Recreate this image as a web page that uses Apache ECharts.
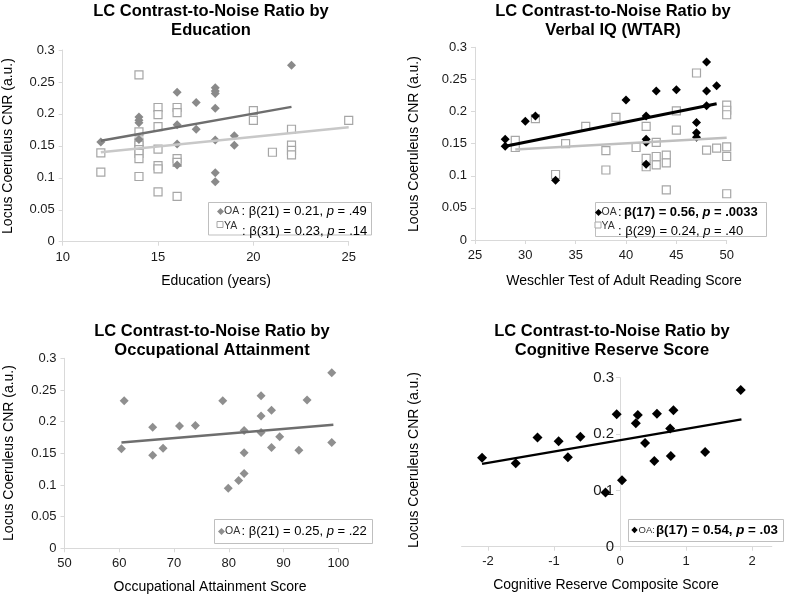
<!DOCTYPE html>
<html><head><meta charset="utf-8">
<script src="https://cdn.jsdelivr.net/npm/echarts@6/dist/echarts.min.js"></script>
<style>html,body{margin:0;padding:0;background:#fff}#c{width:787px;height:596px}</style>
</head><body><div id="c"></div>
<script>
// ---------- DATA ----------
// Panel 1: Education (years) vs LC CNR
const eduOA = [[12,0.156],[14,0.195],[14,0.19],[14,0.186],[14,0.16],[16,0.234],[16,0.183],[16,0.153],[16,0.12],[17,0.218],[17,0.176],[18,0.241],[18,0.236],[18,0.232],[18,0.209],[18,0.159],[18,0.108],[18,0.094],[19,0.166],[19,0.151],[22,0.276]];
const eduYA = [[12,0.139],[12,0.109],[14,0.261],[14,0.172],[14,0.156],[14,0.151],[14,0.144],[14,0.138],[14,0.130],[14,0.102],[15,0.210],[15,0.199],[15,0.180],[15,0.145],[15,0.119],[15,0.114],[15,0.078],[16,0.210],[16,0.202],[16,0.130],[16,0.124],[16,0.071],[20,0.205],[20,0.19],[21,0.14],[22,0.176],[22,0.151],[22,0.143],[22,0.136],[25,0.19]];
const eduOAfit = [[12,0.158],[22,0.211]];
const eduYAfit = [[12,0.140],[25,0.179]];
// Panel 2: WTAR
const wtarOA = [[28,0.157],[28,0.146],[30,0.185],[31,0.193],[33,0.093],[40,0.218],[42,0.193],[42,0.157],[42,0.152],[42,0.118],[43,0.232],[45,0.234],[47,0.183],[47,0.167],[47,0.160],[48,0.277],[48,0.232],[48,0.209],[49,0.240]];
const wtarYA = [[29,0.155],[29,0.144],[31,0.189],[33,0.102],[34,0.150],[36,0.177],[38,0.139],[38,0.109],[39,0.191],[41,0.144],[42,0.177],[42,0.127],[42,0.114],[43,0.152],[43,0.130],[43,0.117],[44,0.132],[44,0.120],[44,0.078],[45,0.201],[45,0.171],[47,0.260],[48,0.140],[49,0.143],[50,0.210],[50,0.202],[50,0.195],[50,0.145],[50,0.130],[50,0.072]];
const wtarOAfit = [[28,0.146],[49,0.212]];
const wtarYAfit = [[29,0.141],[50,0.159]];
// Panel 3: Occupational attainment
const occOA = [[60.4,0.157],[60.9,0.233],[66.1,0.191],[66.1,0.147],[68.0,0.158],[71.0,0.193],[73.9,0.194],[78.9,0.233],[79.9,0.095],[81.8,0.107],[82.8,0.186],[82.8,0.151],[82.8,0.118],[85.9,0.241],[85.9,0.209],[85.9,0.183],[87.8,0.218],[87.8,0.159],[89.3,0.176],[92.8,0.155],[94.3,0.234],[98.8,0.277],[98.8,0.167]];
const occOAfit = [[60.4,0.167],[99.1,0.195]];
// Panel 4: Cognitive reserve composite
const crsOA = [[-2.09,0.158],[-1.58,0.148],[-1.25,0.194],[-0.93,0.187],[-0.79,0.159],[-0.60,0.195],[-0.22,0.096],[-0.05,0.235],[0.03,0.118],[0.24,0.219],[0.27,0.234],[0.38,0.184],[0.52,0.152],[0.56,0.236],[0.76,0.210],[0.77,0.161],[0.81,0.242],[1.29,0.168],[1.83,0.278]];
const crsOAfit = [[-2.09,0.147],[1.84,0.226]];
const crsXTicks = [-2,-1,0,1,2];
const crsXRange = [-2.4, 2.3];

// ---------- CHART ----------
const FONT = '"Liberation Sans", Arial, sans-serif';
const AX = '#d9d9d9';
const chart = echarts.init(document.getElementById('c'), null, {renderer:'canvas'});

function xAxis(gi, min, max, interval, extra) {
  return Object.assign({
    type:'value', gridIndex:gi, min, max, interval,
    axisLine:{show:true, onZero:false, lineStyle:{color:AX, width:1}},
    axisTick:{show:true, length:4, lineStyle:{color:AX}},
    splitLine:{show:false},
    axisLabel:{color:'#1a1a1a', fontSize:13, fontFamily:FONT, margin:9}
  }, extra||{});
}
function yAxis(gi, max, interval, extra) {
  return Object.assign({
    type:'value', gridIndex:gi, min:0, max, interval,
    axisLine:{show:true, onZero:false, lineStyle:{color:AX, width:1}},
    axisTick:{show:true, length:4, lineStyle:{color:AX}},
    splitLine:{show:false},
    axisLabel:{color:'#1a1a1a', fontSize:13, fontFamily:FONT, margin:8}
  }, extra||{});
}
function diamonds(data, xi, color, size) {
  return {type:'scatter', xAxisIndex:xi, yAxisIndex:xi, data, symbol:'diamond', symbolSize:size,
    itemStyle:{color, opacity:1}, z:4, silent:true};
}
function squares(data, xi) {
  return {type:'scatter', xAxisIndex:xi, yAxisIndex:xi, data, symbol:'rect', symbolSize:8,
    itemStyle:{color:'#fff', borderColor:'#a6a6a6', borderWidth:1.2, opacity:1}, z:3, silent:true};
}
function fit(data, xi, color, width) {
  return {type:'line', xAxisIndex:xi, yAxisIndex:xi, data, symbol:'none',
    lineStyle:{color, width}, z:5, silent:true};
}

// graphic helpers
function txt(x, y, text, opts) {
  opts = opts || {};
  return {type:'text', x, y, rotation: opts.rot || 0, z:100,
    style: Object.assign({text, fill:'#000', fontFamily:FONT, fontSize:opts.size||14,
      fontWeight:opts.weight||'normal', align:opts.align||'center', verticalAlign:'middle',
      textAlign:opts.align||'center', textVerticalAlign:'middle'}, opts.extra||{})};
}
function diamondMark(cx, cy, r, color) {
  return {type:'polygon', z:101, shape:{points:[[cx,cy-r],[cx+r,cy],[cx,cy+r],[cx-r,cy]]}, style:{fill:color}};
}
function squareMark(cx, cy, s) {
  return {type:'rect', z:101, shape:{x:cx-s/2, y:cy-s/2, width:s, height:s}, style:{fill:'#fff', stroke:'#a6a6a6', lineWidth:1}};
}
function box(x, y, w, h) {
  return {type:'rect', z:99, shape:{x, y, width:w, height:h}, style:{fill:'#fff', stroke:'#bfbfbf', lineWidth:1}};
}
function statText(x, y, text, bold, size) {
  return {type:'text', x, y, z:101, style:{text, fill:'#000', fontFamily:FONT, fontSize:size||13,
    fontWeight: bold ? 'bold':'normal', align:'left', verticalAlign:'middle', textAlign:'left', textVerticalAlign:'middle',
    rich:{i:{fontStyle:'italic', fontFamily:FONT, fontSize:size||13, fontWeight: bold ? 'bold':'normal'}}}};
}
function smallLab(x, y, text, size) {
  return {type:'text', x, y, z:101, style:{text, fill:'#333', fontFamily:FONT, fontSize:size||10.5,
    align:'left', verticalAlign:'middle', textAlign:'left', textVerticalAlign:'middle'}};
}

const TITLE = {size:16.5, weight:'bold'};
const graphics = [
  // titles
  txt(211, 11, 'LC Contrast-to-Noise Ratio by', TITLE), txt(211, 30, 'Education', TITLE),
  txt(613, 11, 'LC Contrast-to-Noise Ratio by', TITLE), txt(613, 30, 'Verbal IQ (WTAR)', TITLE),
  txt(212, 331, 'LC Contrast-to-Noise Ratio by', TITLE), txt(212, 350, 'Occupational Attainment', TITLE),
  txt(612, 331, 'LC Contrast-to-Noise Ratio by', TITLE), txt(612, 350, 'Cognitive Reserve Score', TITLE),
  // y names
  txt(8, 146, 'Locus Coeruleus CNR (a.u.)', {rot:Math.PI/2}),
  txt(414, 144, 'Locus Coeruleus CNR (a.u.)', {rot:Math.PI/2}),
  txt(9, 453, 'Locus Coeruleus CNR (a.u.)', {rot:Math.PI/2}),
  txt(414, 460, 'Locus Coeruleus CNR (a.u.)', {rot:Math.PI/2}),
  // x names
  txt(216, 281, 'Education (years)'),
  txt(624, 281, 'Weschler Test of Adult Reading Score'),
  txt(210, 587, 'Occupational Attainment Score'),
  txt(606, 585, 'Cognitive Reserve Composite Score'),
  // legend panel 1
  box(208.5, 202.5, 163, 32.5),
  diamondMark(220.5, 211.5, 3.5, '#8a8a8a'), smallLab(224, 211.5, 'OA'),
  statText(241.5, 211.5, ': β(21) = 0.21, {i|p} = .49'),
  squareMark(220, 224.5, 6), smallLab(224, 226, 'YA'),
  statText(242, 231, ': β(31) = 0.23, {i|p} = .14'),
  // legend panel 2
  box(595.5, 202.5, 171, 34),
  diamondMark(598.5, 212.5, 3.5, '#000'), smallLab(601.5, 212.5, 'OA'),
  statText(618, 212.5, ':'), statText(624, 212.5, 'β(17) = 0.56, {i|p} = .0033', true),
  squareMark(598, 225, 6), smallLab(601.5, 226.5, 'YA'),
  statText(618, 231.5, ': β(29) = 0.24, {i|p} = .40'),
  // legend panel 3
  box(214.5, 519.5, 158, 24),
  diamondMark(221.5, 531.5, 3.5, '#8f8f8f'), smallLab(225, 531.5, 'OA'),
  statText(241.5, 531.5, ': β(21) = 0.25, {i|p} = .22'),
  // legend panel 4
  box(628.5, 519.5, 155, 22),
  diamondMark(634.5, 530, 3.2, '#000'), smallLab(638.5, 530, 'OA:', 9.5),
  statText(656, 530, 'β(17) = 0.54, {i|p} = .03', true, 13.3)
];

// panel 4 grid geometry; y axis is drawn at x = 0
const g4 = {left:461.6, top:377.7, width:310.2, height:169};
const y4Offset = -g4.width * (0 - crsXRange[0]) / (crsXRange[1] - crsXRange[0]);

const option = {
  animation:false,
  backgroundColor:'#fff',
  grid:[
    {left:62.7, top:50, width:286, height:191.7},
    {left:475, top:47.3, width:251.7, height:192.7},
    {left:64.5, top:358.3, width:273.8, height:190},
    g4
  ],
  xAxis:[
    xAxis(0, 10, 25, 5),
    xAxis(1, 25, 50, 5),
    xAxis(2, 50, 100, 10),
    xAxis(3, crsXRange[0], crsXRange[1], 1, {
      axisLabel:{color:'#1a1a1a', fontSize:13, fontFamily:FONT, margin:8, customValues:crsXTicks},
      axisTick:{show:true, length:4, inside:false, lineStyle:{color:AX}, customValues:crsXTicks}
    })
  ],
  yAxis:[
    yAxis(0, 0.3, 0.05),
    yAxis(1, 0.3, 0.05),
    yAxis(2, 0.3, 0.05),
    yAxis(3, 0.3, 0.1, {
      offset: y4Offset,
      axisLabel:{color:'#1a1a1a', fontSize:15, fontFamily:FONT, margin:6}
    })
  ],
  series:[
    squares(eduYA, 0), diamonds(eduOA, 0, '#8a8a8a', 9),
    fit(eduYAfit, 0, '#c8c8c8', 2.5), fit(eduOAfit, 0, '#6e6e6e', 2.5),
    squares(wtarYA, 1), diamonds(wtarOA, 1, '#000', 9),
    fit(wtarYAfit, 1, '#bfbfbf', 2.5), fit(wtarOAfit, 1, '#000', 3),
    diamonds(occOA, 2, '#8f8f8f', 9), fit(occOAfit, 2, '#6e6e6e', 2.5),
    diamonds(crsOA, 3, '#000', 10), fit(crsOAfit, 3, '#000', 2.5)
  ],
  graphic: graphics
};
chart.setOption(option);
</script>
</body></html>
